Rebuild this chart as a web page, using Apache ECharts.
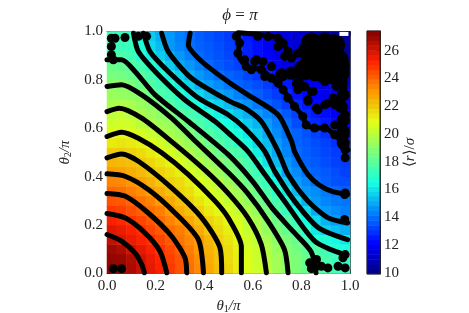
<!DOCTYPE html>
<html><head><meta charset="utf-8"><style>html,body{margin:0;padding:0;background:#fff}#c{width:469px;height:313px}</style>
<script src="https://cdn.jsdelivr.net/npm/echarts@6/dist/echarts.min.js"></script></head><body><div id="c"></div>
<script>
const xCells=['.02','.06','.10','.14','.18','.22','.26','.30','.34','.38','.42','.46','.50','.54','.58','.62','.66','.70','.74','.78','.82','.86','.90','.94','.98'];
const yCells=xCells.slice();
const r02=[27.2,27.1,26.7,26.2,25.7,25.3,24.8,24.3,23.8,23.3,22.7,22.2,21.7,21.2,20.7,20.4,20.0,19.5,19.1,18.7,18.3,18.0,17.7,17.5,17.3];
const r06=[27.1,27.0,26.6,26.1,25.6,25.2,24.7,24.3,23.7,23.2,22.6,22.1,21.6,21.2,20.7,20.3,19.9,19.5,19.0,18.7,18.3,17.9,17.6,17.3,17.1];
const r10=[26.9,26.6,26.1,25.7,25.3,24.9,24.5,24.0,23.5,23.0,22.5,22.1,21.6,21.1,20.6,20.3,19.8,19.3,18.9,18.5,18.1,17.8,17.3,16.9,16.6];
const r14=[26.3,25.9,25.6,25.3,25.0,24.6,24.2,23.7,23.3,23.0,22.4,21.8,21.4,21.0,20.5,20.1,19.6,19.1,18.7,18.2,17.4,16.9,16.7,16.4,16.1];
const r18=[25.8,25.6,25.3,25.0,24.6,24.2,23.8,23.5,23.1,22.6,22.0,21.6,21.2,20.8,20.2,19.8,19.2,18.7,18.2,17.6,17.0,16.1,15.7,15.4,15.1];
const r22=[25.3,25.1,24.9,24.6,24.2,23.8,23.4,23.0,22.7,22.2,21.8,21.4,21.0,20.6,20.1,19.6,19.1,18.4,17.8,17.2,16.4,15.8,15.2,14.8,14.6];
const r26=[24.8,24.7,24.4,24.1,23.8,23.5,23.0,22.6,22.2,21.8,21.3,21.0,20.6,20.2,19.7,19.2,18.6,17.9,17.2,16.6,15.9,15.0,14.7,14.5,14.3];
const r30=[24.3,24.2,24.0,23.7,23.4,23.0,22.7,22.2,21.8,21.4,21.0,20.6,20.2,19.8,19.2,18.6,18.1,17.5,16.8,15.9,15.1,14.7,14.4,14.2,14.1];
const r34=[23.9,23.8,23.5,23.2,22.9,22.6,22.2,21.8,21.5,21.0,20.7,20.3,19.9,19.4,18.8,18.2,17.6,17.0,16.1,15.3,14.7,14.5,14.2,13.9,13.7];
const r38=[23.4,23.3,23.1,22.8,22.5,22.1,21.8,21.6,21.2,20.9,20.4,19.9,19.4,18.9,18.3,17.7,17.1,16.4,15.6,14.8,14.4,14.0,13.7,13.5,13.4];
const r42=[22.9,22.8,22.6,22.3,22.0,21.8,21.5,21.2,20.7,20.3,19.9,19.4,18.9,18.4,17.8,17.3,16.7,15.8,14.9,14.5,14.0,13.8,13.6,13.4,13.2];
const r46=[22.4,22.3,22.2,22.0,21.7,21.4,21.1,20.7,20.3,19.8,19.4,19.0,18.5,18.1,17.5,16.9,16.0,15.3,14.7,14.2,13.8,13.6,13.4,13.2,13.1];
const r50=[21.9,21.9,21.8,21.6,21.3,21.0,20.6,20.2,19.8,19.3,18.9,18.3,17.9,17.6,17.1,16.2,15.6,15.0,14.4,13.9,13.7,13.5,13.3,13.1,13.0];
const r54=[21.3,21.4,21.3,21.1,20.8,20.5,20.1,19.7,19.3,18.9,18.3,17.8,17.4,17.0,16.4,15.8,15.3,14.8,14.3,13.8,13.6,13.4,13.2,12.9,12.7];
const r58=[20.9,21.0,20.9,20.6,20.3,19.9,19.6,19.3,18.9,18.1,17.8,17.4,17.0,16.6,16.1,15.6,15.0,14.5,14.0,13.8,13.5,13.2,12.9,12.6,12.4];
const r62=[20.4,20.5,20.4,20.0,19.7,19.5,19.3,18.9,18.1,17.7,17.3,16.9,16.5,16.1,15.6,15.2,14.8,14.3,13.9,13.4,13.0,12.8,12.5,12.2,12.0];
const r66=[20.1,20.2,20.0,19.7,19.4,19.1,18.7,18.0,17.6,17.2,16.8,16.3,15.9,15.5,15.1,14.8,14.4,14.0,13.6,13.2,12.8,12.5,12.3,12.0,11.8];
const r70=[19.6,19.7,19.6,19.3,19.0,18.4,17.8,17.4,17.0,16.5,16.0,15.7,15.3,14.9,14.6,14.2,13.8,13.5,13.1,12.8,12.5,12.2,12.0,11.8,11.6];
const r74=[19.3,19.2,19.1,19.0,18.3,17.7,17.4,17.0,16.3,15.8,15.4,15.0,14.7,14.3,14.0,13.7,13.4,13.1,12.8,12.4,12.2,12.0,11.8,11.6,11.4];
const r78=[19.0,19.0,18.7,18.3,17.8,17.4,16.9,16.2,15.7,15.1,14.8,14.5,14.1,13.8,13.6,13.4,13.1,12.8,12.5,12.2,11.9,11.7,11.5,11.3,11.2];
const r82=[18.6,18.5,18.3,17.9,17.5,16.9,16.2,15.7,15.1,14.7,14.4,14.0,13.8,13.6,13.3,13.0,12.7,12.4,12.1,11.8,11.6,11.4,11.2,11.0,10.9];
const r86=[18.3,18.2,17.9,17.5,16.9,16.3,15.6,15.0,14.7,14.3,13.9,13.6,13.4,13.2,12.9,12.5,12.2,11.9,11.6,11.4,11.2,11.0,10.8,10.7,10.6];
const r90=[17.8,17.7,17.4,16.9,16.2,15.6,15.1,14.7,14.3,13.9,13.7,13.5,13.3,13.0,12.6,12.3,12.1,11.8,11.6,11.3,11.1,10.9,10.8,10.6,10.5];
const r94=[17.3,17.3,17.2,16.7,15.8,15.3,14.7,14.4,14.0,13.8,13.6,13.4,13.2,13.0,12.6,12.3,12.0,11.7,11.5,11.3,11.1,10.9,10.7,10.5,10.4];
const r98=[17.2,17.2,17.1,16.3,15.6,15.1,14.7,14.3,14.0,13.7,13.5,13.3,13.1,12.9,12.5,12.2,11.9,11.7,11.5,11.3,11.1,10.8,10.6,10.5,10.4];
const heatRows=[r02,r06,r10,r14,r18,r22,r26,r30,r34,r38,r42,r46,r50,r54,r58,r62,r66,r70,r74,r78,r82,r86,r90,r94,r98];

const c26=[[0,.161],[.06,.134],[.115,.085],[.143,.037],[.154,.003]];
const c25=[[0,.248],[.074,.23],[.156,.168],[.218,.092],[.246,.003]];
const c24=[[0,.331],[.074,.32],[.17,.25],[.266,.154],[.321,.065],[.328,.003]];
const c23=[[0,.412],[.074,.402],[.17,.347],[.28,.25],[.376,.14],[.397,.003]];
const c22=[[0,.478],[.06,.494],[.129,.464],[.266,.354],[.39,.23],[.465,.106],[.472,.003]];
const c21=[[0,.566],[.06,.584],[.129,.559],[.225,.499],[.335,.409],[.445,.299],[.5,.228],[.553,.11],[.553,.003]];
const c20=[[0,.669],[.05,.683],[.143,.642],[.266,.545],[.4,.43],[.5,.33],[.58,.23],[.635,.12],[.656,.003]];
const c19=[[0,.773],[.06,.78],[.143,.738],[.266,.642],[.35,.56],[.5,.416],[.58,.33],[.66,.22],[.73,.1],[.745,.003]];
const c18=[[0,.883],[.06,.883],[.115,.835],[.198,.738],[.335,.628],[.5,.49],[.6,.38],[.68,.27],[.76,.18],[.84,.09],[.86,.003]];
const c17=[[.109,.993],[.129,.917],[.198,.835],[.32,.718],[.445,.628],[.5,.58],[.58,.505],[.65,.409],[.73,.3],[.855,.134],[.978,.078]];
const c16=[[.15,.993],[.177,.917],[.252,.835],[.376,.725],[.5,.655],[.567,.6],[.649,.505],[.69,.423],[.772,.299],[.87,.189],[.99,.14]];
const c15=[[.225,.993],[.252,.917],[.348,.807],[.506,.711],[.567,.683],[.635,.628],[.704,.505],[.745,.409],[.827,.299],[.91,.23],[.99,.209]];
const c14=[[.342,.993],[.335,.945],[.39,.876],[.506,.787],[.58,.738],[.704,.656],[.76,.545],[.772,.504],[.827,.409],[.87,.368],[.923,.34],[.99,.326]];
const c13=[[.532,.986],[.546,.952],[.539,.91],[.573,.855],[.635,.842],[.677,.807],[.725,.759],[.772,.69],[.806,.649],[.82,.614],[.854,.601],[.896,.601],[.937,.573],[.971,.539],[.992,.511]];
const c12=[[.54,.995],[.62,.988],[.70,.975],[.725,.95],[.745,.92],[.76,.89],[.80,.925],[.83,.95]];
const contours=[c26,c25,c24,c23,c22,c21,c20,c19,c18,c17,c16,c15,c14,c13,c12];

const noisySmall=[[.532,.98],[.546,.952],[.539,.91],[.567,.883],[.573,.855],[.608,.876],[.594,.842],[.635,.842],[.649,.814],[.677,.807],[.704,.787],[.725,.759],[.745,.725],[.772,.69],[.806,.649],[.82,.614],[.854,.601],[.896,.601],[.937,.573],[.971,.539],[.98,.511],
[.621,.98],[.663,.979],[.704,.972],[.725,.952],[.704,.938],[.745,.917],[.731,.897],[.759,.89],[.786,.91],[.807,.931],[.615,.883],[.642,.876],[.677,.855],
[.951,.807],[.971,.766],[.964,.725],[.937,.711],[.971,.683],[.98,.656],[.909,.704],[.868,.676],[.827,.711],[.814,.772],[.841,.752],[.896,.793],[.793,.786],[.98,.63],[.964,.614],[.98,.573],[.971,.573],[.937,.614],
[.779,.786],[.807,.772],[.848,.752],[.883,.808],[.924,.8],[.944,.773],[.931,.725],[.938,.697],[.896,.697],[.862,.683],[.827,.718],[.786,.759],
[.834,.044],[.855,.023],[.882,.03],[.909,.023],[.951,.03],[.971,.065],[.98,.078],[.98,.023],[.841,.02],[.862,.058],
[.978,.326],[.98,.333],[.978,.223],[.98,.478],[.033,.972],[.074,.975],[.018,.972],[.018,.938],[.018,.904],[.026,.883],[.129,.98],[.163,.98],[.026,.02],[.06,.02]];
const noisyMedium=[[.759,.828],[.793,.828],[.719,.821],[.854,.821],[.909,.821],[.964,.787],[.972,.738],[.964,.69],[.972,.635],[.972,.587],[.972,.539]];
const noisyLarge=[[.841,.952],[.896,.952],[.937,.945],[.841,.897],[.896,.897],[.951,.883],[.955,.862],[.813,.842],[.868,.842],[.923,.842],[.955,.828]];
const blank=[[.975,.99]];
const cbLevels=[10.1,10.4,10.8,11.1,11.5,11.8,12.2,12.5,12.9,13.2,13.6,13.9,14.3,14.6,15.0,15.3,15.7,16.0,16.4,16.7,17.1,17.4,17.8,18.1,18.5,18.8,19.2,19.5,19.9,20.2,20.6,20.9,21.3,21.6,22.0,22.3,22.7,23.0,23.4,23.7,24.1,24.4,24.8,25.1,25.5,25.8,26.2,26.5,26.9,27.2];
const cbTicks=[10,12,14,16,18,20,22,24,26];
const jet=['#00007f','#0000ff','#007fff','#14ffe2','#7aff7a','#e2ff14','#ff9700','#ff2100','#7f0000'];

const serif='"Liberation Serif","DejaVu Serif",serif';
const ink='#222', frame='#555';
const heatData=[];
heatRows.forEach((row,j)=>row.forEach((v,i)=>heatData.push([i,j,v])));
const cbData=cbLevels.map((v,j)=>[0,j,v]);
const rich={i:{fontFamily:serif,fontStyle:'italic',fontSize:15,color:ink},n:{fontFamily:serif,fontSize:15,color:ink},s:{fontFamily:serif,fontSize:10,color:ink,verticalAlign:'bottom',padding:[6,0,0,0]},
  ti:{fontFamily:serif,fontStyle:'italic',fontSize:17,color:ink},tn:{fontFamily:serif,fontSize:17,color:ink}};
function valueAxis(pos,labels,extra){
  return Object.assign({type:'value',gridIndex:0,position:pos,min:0,max:1,interval:.2,splitLine:{show:false},
    axisLine:{show:true,onZero:false,lineStyle:{color:frame,width:1}},
    axisTick:{show:true,inside:true,length:4,lineStyle:{color:ink,width:1}},
    axisLabel:{show:labels,fontFamily:serif,fontSize:15,color:ink,margin:pos==='bottom'?5:4,formatter:v=>v.toFixed(1),hideOverlap:false}},extra||{});
}
const series=[{type:'heatmap',xAxisIndex:0,yAxisIndex:0,data:heatData,silent:true}];
contours.forEach(c=>series.push({type:'line',xAxisIndex:1,yAxisIndex:1,data:c,showSymbol:false,smooth:.25,clip:true,silent:true,
  lineStyle:{color:'#000',width:5,cap:'round',join:'round'}}));
[[noisySmall,9],[noisyMedium,13],[noisyLarge,21]].forEach(p=>series.push({type:'scatter',xAxisIndex:1,yAxisIndex:1,data:p[0],symbolSize:p[1],itemStyle:{color:'#000',opacity:1},clip:true,silent:true}));
series.push({type:'scatter',xAxisIndex:1,yAxisIndex:1,data:blank,symbol:'rect',symbolSize:[9,4],itemStyle:{color:'#fff',opacity:1},clip:true,silent:true,z:5});
series.push({type:'heatmap',xAxisIndex:4,yAxisIndex:4,data:cbData,silent:true});

const chart=echarts.init(document.getElementById('c'),null,{renderer:'canvas'});
chart.setOption({animation:false,backgroundColor:'#fff',
  title:{text:'{ti|ϕ}{tn| = }{ti|π}',left:235,top:2,textAlign:'center',textStyle:{rich,fontFamily:serif,fontSize:17,fontWeight:'normal'}},
  visualMap:{show:false,min:9.9,max:27.42,seriesIndex:[0,series.length-1],inRange:{color:jet}},
  grid:[{left:107,top:31.5,width:243,height:242,outerBoundsMode:'none'},{left:367,top:31,width:13,height:243,outerBoundsMode:'none'}],
  xAxis:[
    {type:'category',gridIndex:0,show:false,data:xCells,position:'bottom'},
    valueAxis('bottom',true,{name:'{i|θ}{s|1}{i|/π}',nameLocation:'middle',nameGap:22,nameTextStyle:{rich}}),
    valueAxis('top',false),
    {type:'category',gridIndex:1,show:false,data:['cb'],position:'bottom'},
    {type:'category',gridIndex:1,show:false,data:['cb'],position:'top'}
  ],
  yAxis:[
    {type:'category',gridIndex:0,show:false,data:yCells,position:'left'},
    valueAxis('left',true,{name:'{i|θ}{s|2}{i|/π}',nameLocation:'middle',nameGap:30,nameRotate:90,nameTextStyle:{rich}}),
    valueAxis('right',false),
    {type:'value',gridIndex:1,position:'right',min:9.9,max:27.42,splitLine:{show:false},
      axisLine:{show:true,lineStyle:{color:'#222',width:1}},
      axisTick:{show:true,inside:true,length:4,customValues:cbTicks,lineStyle:{color:'#222'}},
      axisLabel:{fontFamily:serif,fontSize:15,color:ink,margin:4,customValues:cbTicks,hideOverlap:false},
      name:'{n|⟨}{i|r}{n|⟩/}{i|σ}',nameLocation:'middle',nameGap:22,nameRotate:90,nameTextStyle:{rich}},
    {type:'category',gridIndex:1,show:false,data:cbLevels.map(String),position:'left'}
  ],
  series
});
chart.setOption({graphic:[{type:'rect',silent:true,z:100,shape:{x:367,y:31,width:13,height:243},style:{fill:null,stroke:'#222',lineWidth:1}}]});
</script></body></html>
